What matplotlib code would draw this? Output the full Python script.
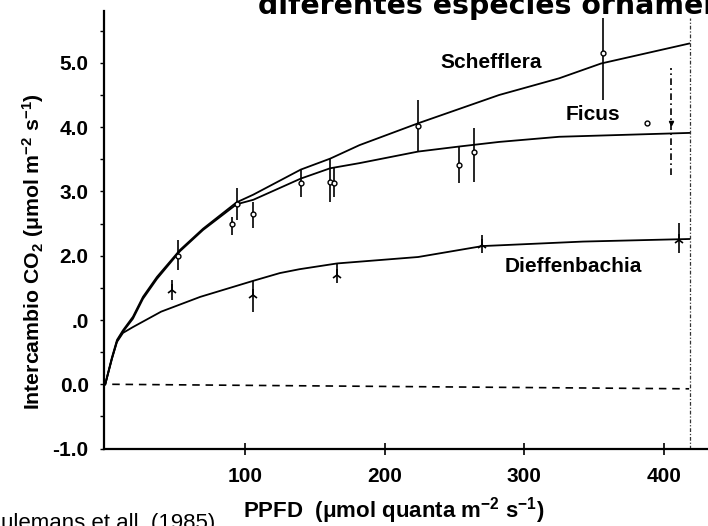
import matplotlib
matplotlib.use("Agg")
import matplotlib.pyplot as plt
from matplotlib.ticker import FixedLocator, FixedFormatter

plt.rcParams['font.family'] = ['Liberation Sans', 'DejaVu Sans']
plt.rcParams['mathtext.fontset'] = 'custom'
plt.rcParams['mathtext.rm'] = 'Liberation Sans:bold'
plt.rcParams['mathtext.bf'] = 'Liberation Sans:bold'
plt.rcParams['mathtext.it'] = 'Liberation Sans:bold'

# ---- data ----
schef_x = [0, 1.2, 4.8, 8.4, 12.7, 19.8, 27, 37, 53.5, 70, 94, 106, 140, 161, 182, 224, 282, 325, 355, 418]
schef_y = [0.0, 0.11, 0.42, 0.69, 0.84, 1.05, 1.36, 1.67, 2.09, 2.42, 2.83, 2.95, 3.34, 3.51, 3.72, 4.06, 4.50, 4.76, 4.99, 5.30]

ficus_x = [0, 1.2, 4.8, 8.4, 12.7, 19.8, 27, 37, 53.5, 70, 94, 106, 140, 161, 182, 224, 254, 282, 325, 418]
ficus_y = [0.0, 0.10, 0.40, 0.67, 0.82, 1.02, 1.33, 1.64, 2.07, 2.40, 2.80, 2.87, 3.20, 3.36, 3.44, 3.62, 3.70, 3.77, 3.85, 3.91]

dief_x = [0, 1.2, 4.8, 8.4, 12.7, 19.8, 40, 68, 106, 125, 139, 166, 224, 270, 342, 418]
dief_y = [0.0, 0.10, 0.40, 0.66, 0.80, 0.89, 1.13, 1.36, 1.61, 1.73, 1.79, 1.88, 1.98, 2.15, 2.22, 2.26]

# observed points with their vertical bars (Schefflera / Ficus)
pt_x = [52, 91, 94, 106, 140, 161, 164, 224, 253, 264, 356, 388]
pt_y = [2.00, 2.50, 2.80, 2.65, 3.13, 3.15, 3.13, 4.02, 3.41, 3.61, 5.15, 4.06]
pt_lo = [1.78, 2.32, 2.56, 2.43, 2.91, 2.83, 2.91, 3.61, 3.13, 3.15, 4.42, 4.06]
pt_hi = [2.25, 2.60, 3.05, 2.84, 3.33, 3.52, 3.38, 4.42, 3.69, 3.99, 5.70, 4.06]

# observed points (Dieffenbachia)
dpt_x = [48, 106, 166, 270, 411]
dpt_y = [1.47, 1.39, 1.70, 2.17, 2.25]
dpt_lo = [1.31, 1.12, 1.58, 2.04, 2.04]
dpt_hi = [1.62, 1.61, 1.89, 2.32, 2.51]

# dashed bar
dash_x = [405]
dash_y = [4.06]
dash_lo = [3.26]
dash_hi = [4.92]

# reference dash-dot vertical line and zero line
ref_x = [418.5]
ref_lo = [-1.0]
ref_hi = [5.70]
zero_x = [5, 418]
zero_y = [0.0, -0.07]

xticks = [100, 200, 300, 400]
xtick_labels = ["100", "200", "300", "400"]
yticks = [-1, 0, 1, 2, 3, 4, 5]
ytick_labels = ["-1.0", "0.0", ".0", "2.0", "3.0", "4.0", "5.0"]
yminor = [-0.5, 0.5, 1.5, 2.5, 3.5, 4.5, 5.5]

W, H = 708, 526
fig = plt.figure(figsize=(W / 100, H / 100), dpi=100)
ax = fig.add_axes([104 / W, 77.4 / H, 604 / W, 437.2 / H])
ax.set_xlim(-0.9, 431.5)
ax.set_ylim(-1.0, 5.8)

for s in ['top', 'right']:
    ax.spines[s].set_visible(False)
for s in ['left', 'bottom']:
    ax.spines[s].set_linewidth(1.6)

lw = 1.3
ax.plot(schef_x, schef_y, color='black', lw=lw)
ax.plot(ficus_x, ficus_y, color='black', lw=lw)
ax.plot(dief_x, dief_y, color='black', lw=lw)
ax.plot(zero_x, zero_y, color='black', lw=1.2, ls=(0, (4.5, 3.5)))

ax.vlines(pt_x, pt_lo, pt_hi, color='black', lw=1.2)
ax.plot(pt_x, pt_y, ls='none', marker='o', ms=3.5, mfc='white', mec='black', mew=1.0)
ax.vlines(dpt_x, dpt_lo, dpt_hi, color='black', lw=1.2)
ax.plot(dpt_x, dpt_y, ls='none', marker='2', ms=8, color='black', mew=1.2)
ax.vlines(dash_x, dash_lo, dash_hi, color='black', lw=1.2, linestyles=[(0, (4, 2, 1, 2))])
ax.plot(dash_x, dash_y, ls='none', marker='v', ms=3, color='black')
ax.vlines(ref_x, ref_lo, ref_hi, color='#333333', lw=0.9, linestyles=[(0, (3, 1.5, 1, 1.5))])

ax.xaxis.set_major_locator(FixedLocator(xticks))
ax.xaxis.set_major_formatter(FixedFormatter(xtick_labels))
ax.yaxis.set_major_locator(FixedLocator(yticks))
ax.yaxis.set_major_formatter(FixedFormatter(ytick_labels))
ax.yaxis.set_minor_locator(FixedLocator(yminor))
ax.tick_params(axis='x', direction='inout', length=8, width=1.2, pad=9,
               labelsize=15)
ax.tick_params(axis='y', which='major', direction='out', length=3, width=1.0,
               pad=8, labelsize=15)
ax.tick_params(axis='y', which='minor', direction='out', length=3, width=1.0)
for t in ax.get_xticklabels() + ax.get_yticklabels():
    t.set_fontweight('bold')

# curve labels (positions in display pixels from the bottom-left)
ax.text(491, H - 63, "Schefflera", transform=None, fontsize=15, fontweight='bold',
        ha='center', va='center')
ax.text(592.5, H - 115, "Ficus", fontsize=15, fontweight='bold',
        ha='center', va='center', transform=None)
ax.text(573.5, H - 267, "Dieffenbachia", fontsize=15, fontweight='bold',
        ha='center', va='center', transform=None)

# axis titles
fig.text(33 / W, 1 - 252 / H, r"Intercambio CO$_2$ ($\mu$mol m$^{-2}$ s$^{-1}$)",
         rotation=90, fontsize=15.3, fontweight='bold', ha='center', va='center')
fig.text(243 / W, 1 - 518 / H, r"PPFD  ($\mu$mol quanta m$^{-2}$ s$^{-1}$)",
         fontsize=16, fontweight='bold', ha='left', va='baseline')

# title (cut by the figure edge, as in the source) and source note
fig.text(258 / W, 1 - 14.5 / H, "diferentes especies ornamentales",
         fontsize=20.4, fontweight='bold', family=['DejaVu Sans'],
         ha='left', va='baseline')
fig.text(1 / W, -3 / H, "ulemans et all. (1985)", fontsize=16,
         ha='left', va='baseline')

fig.savefig("out.png", dpi=100)
